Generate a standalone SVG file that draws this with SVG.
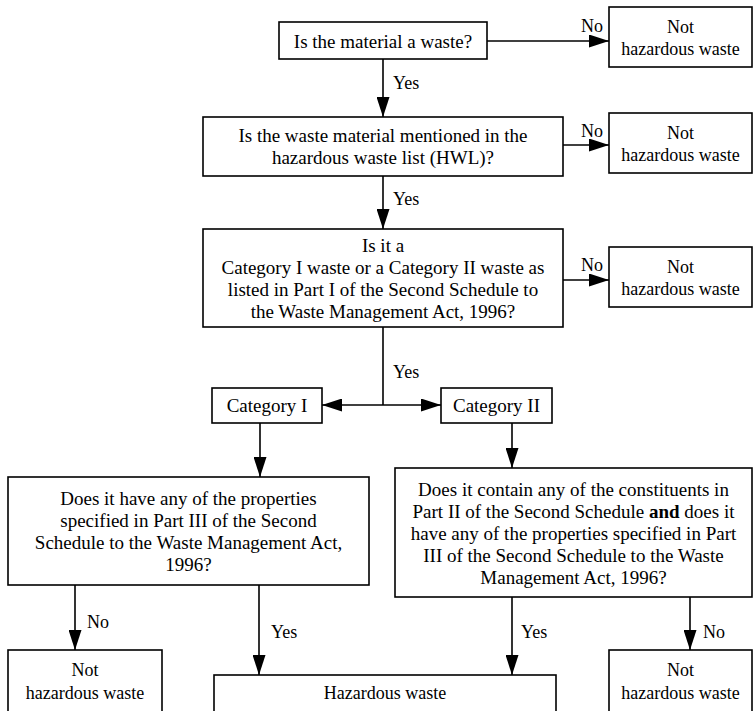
<svg xmlns="http://www.w3.org/2000/svg" width="754" height="711" viewBox="0 0 754 711">
<defs>
<marker id="ah" markerUnits="userSpaceOnUse" markerWidth="20" markerHeight="13" viewBox="0 0 20 13" refX="20" refY="6.5" orient="auto-start-reverse"><path d="M0,0 L20,6.5 L0,13 z" fill="#000"/></marker>
</defs>
<style>
.box{fill:#fff;stroke:#000;stroke-width:1.6}
.t{font-family:"Liberation Serif","Times New Roman",serif;font-size:19px;fill:#000;text-anchor:middle}
.s{font-size:18px}
.lbl{font-family:"Liberation Serif","Times New Roman",serif;font-size:18px;fill:#000}
.end{text-anchor:end}
.c{stroke:#000;stroke-width:1.6;fill:none}
.a{marker-end:url(#ah)}
.aa{marker-start:url(#ah);marker-end:url(#ah)}
</style>
<rect width="754" height="711" fill="#fff"/>

<g id="connectors">
<line class="c a" x1="487" y1="41" x2="609" y2="41"/>
<line class="c a" x1="383" y1="59" x2="383" y2="117"/>
<line class="c a" x1="563" y1="145" x2="609" y2="145"/>
<line class="c a" x1="383" y1="176" x2="383" y2="229"/>
<line class="c a" x1="563" y1="280" x2="609" y2="280"/>
<line class="c" x1="383" y1="327" x2="383" y2="405"/>
<line class="c aa" x1="322" y1="405" x2="441" y2="405"/>
<line class="c a" x1="260" y1="423" x2="260" y2="477"/>
<line class="c a" x1="512" y1="423" x2="512" y2="468"/>
<line class="c a" x1="75" y1="585" x2="75" y2="650"/>
<line class="c a" x1="259" y1="585" x2="259" y2="675"/>
<line class="c a" x1="512" y1="597" x2="512" y2="675"/>
<line class="c a" x1="690" y1="597" x2="690" y2="650"/>
<text class="lbl end" x="603" y="32">No</text>
<text class="lbl" x="393" y="89">Yes</text>
<text class="lbl end" x="603" y="137">No</text>
<text class="lbl" x="393" y="205">Yes</text>
<text class="lbl end" x="603" y="271">No</text>
<text class="lbl" x="393" y="378">Yes</text>
<text class="lbl" x="87" y="628">No</text>
<text class="lbl" x="271" y="638">Yes</text>
<text class="lbl" x="521" y="638">Yes</text>
<text class="lbl" x="703" y="638">No</text>
</g>

<g id="q1">
<rect class="box" x="279" y="22" width="208" height="37"/>
<text class="t" x="383" y="47.5">Is the material a waste?</text>
</g>
<g id="nh1">
<rect class="box" x="609" y="7" width="143" height="60"/>
<text class="t s" x="680.5" y="33">Not</text>
<text class="t s" x="680.5" y="54.5">hazardous waste</text>
</g>
<g id="q2">
<rect class="box" x="203" y="117" width="360" height="59"/>
<text class="t" x="383" y="141.5">Is the waste material mentioned in the</text>
<text class="t" x="383" y="163.5">hazardous waste list (HWL)?</text>
</g>
<g id="nh2">
<rect class="box" x="609" y="113" width="143" height="60"/>
<text class="t s" x="680.5" y="138.5">Not</text>
<text class="t s" x="680.5" y="160.5">hazardous waste</text>
</g>
<g id="q3">
<rect class="box" x="203" y="229" width="360" height="98"/>
<text class="t" x="383" y="251.5">Is it a</text>
<text class="t" x="383" y="273.5">Category I waste or a Category II waste as</text>
<text class="t" x="383" y="295.5">listed in Part I of the Second Schedule to</text>
<text class="t" x="383" y="317.5">the Waste Management Act, 1996?</text>
</g>
<g id="nh3">
<rect class="box" x="609" y="247" width="143" height="60"/>
<text class="t s" x="680.5" y="272.5">Not</text>
<text class="t s" x="680.5" y="294.5">hazardous waste</text>
</g>
<g id="cat1">
<rect class="box" x="212" y="388" width="110" height="35"/>
<text class="t" x="267" y="411.5">Category I</text>
</g>
<g id="cat2">
<rect class="box" x="441" y="388" width="111" height="35"/>
<text class="t" x="496.5" y="411.5">Category II</text>
</g>
<g id="q4">
<rect class="box" x="8" y="477" width="361" height="108"/>
<text class="t" x="188.5" y="504.5">Does it have any of the properties</text>
<text class="t" x="188.5" y="526.5">specified in Part III of the Second</text>
<text class="t" x="188.5" y="548.5">Schedule to the Waste Management Act,</text>
<text class="t" x="188.5" y="570.5">1996?</text>
</g>
<g id="q5">
<rect class="box" x="395" y="468" width="357" height="129"/>
<text class="t" x="573.5" y="495.5">Does it contain any of the constituents in</text>
<text class="t" x="573.5" y="517.5">Part II of the Second Schedule <tspan font-weight="bold">and</tspan> does it</text>
<text class="t" x="573.5" y="539.5">have any of the properties specified in Part</text>
<text class="t" x="573.5" y="561.5">III of the Second Schedule to the Waste</text>
<text class="t" x="573.5" y="583.5">Management Act, 1996?</text>
</g>
<g id="nh4">
<rect class="box" x="8" y="650" width="154" height="70"/>
<text class="t s" x="85" y="675.5">Not</text>
<text class="t s" x="85" y="698.5">hazardous waste</text>
</g>
<g id="haz">
<rect class="box" x="214" y="675" width="342" height="50"/>
<text class="t s" x="385" y="698.5">Hazardous waste</text>
</g>
<g id="nh5">
<rect class="box" x="609" y="650" width="143" height="70"/>
<text class="t s" x="680.5" y="675.5">Not</text>
<text class="t s" x="680.5" y="698.5">hazardous waste</text>
</g>
</svg>
